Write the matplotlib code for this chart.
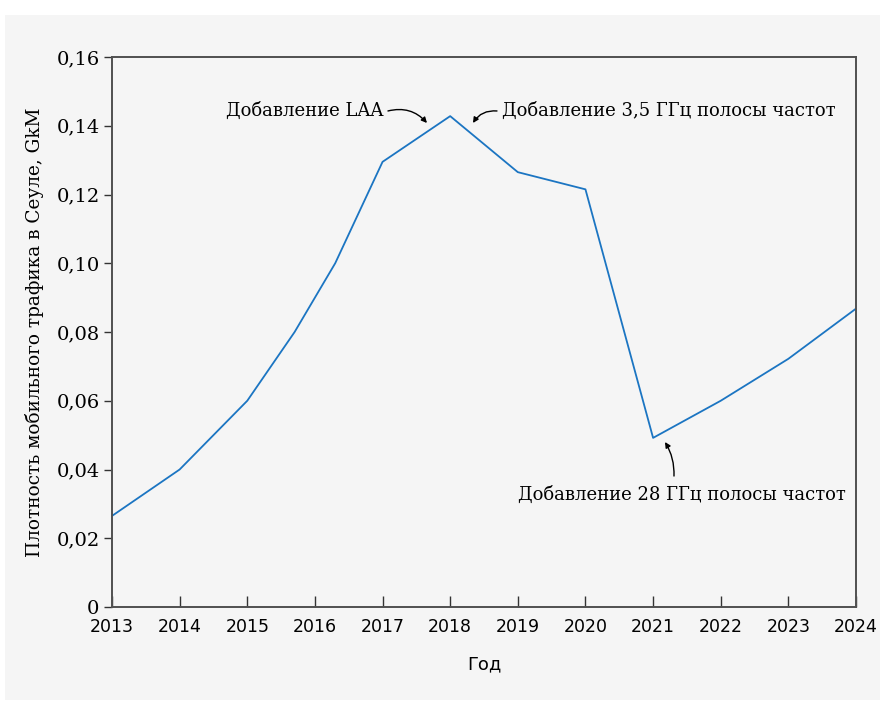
import matplotlib
matplotlib.use("Agg")
import matplotlib.pyplot as plt
from matplotlib.patches import Rectangle

years = [2013, 2014, 2015, 2015.7, 2016.3, 2017, 2018, 2019, 2020, 2021, 2022, 2023, 2024]
density = [0.0265, 0.0400, 0.0600, 0.0800, 0.1000, 0.1295, 0.1428, 0.1265, 0.1215, 0.0492, 0.0600, 0.0722, 0.0868]
year_ticks = list(range(2013, 2025))
y_ticks = [0, 0.02, 0.04, 0.06, 0.08, 0.10, 0.12, 0.14, 0.16]
y_tick_labels = ["0", "0,02", "0,04", "0,06", "0,08", "0,10", "0,12", "0,14", "0,16"]

SERIF = ["DejaVu Serif"]
plt.rcParams['font.family'] = SERIF

fig = plt.figure(figsize=(8.85, 7.01), dpi=100)
fig.patch.set_facecolor("white")
bg = Rectangle((5/885, 1-700/701), 875/885, 685/701, transform=fig.transFigure,
               facecolor="#f5f5f5", edgecolor="none", zorder=-10)
fig.add_artist(bg)
ax = fig.add_axes([112/885, 1-607/701, 744/885, 550/701])
ax.set_zorder(1)
ax.set_facecolor("#f5f5f5")
ax.plot(years, density, color="#1b75c2", lw=1.3)
ax.set_xlim(2013, 2024)
ax.set_ylim(0, 0.16)
ax.set_xticks(year_ticks)
ax.set_xticklabels([str(y) for y in year_ticks], family=["DejaVu Sans"], fontsize=12.5)
ax.set_yticks(y_ticks)
ax.set_yticklabels(y_tick_labels, fontsize=14)
for s in ax.spines.values():
    s.set_color("#505050")
    s.set_linewidth(1.4)
ax.tick_params(axis="x", direction="in", length=8, width=1, color="#333333", pad=8)
ax.tick_params(axis="y", direction="out", length=6, width=1, color="#333333", pad=3)
ax.set_xlabel("Год", fontsize=13, family=["DejaVu Sans"], labelpad=14)
ax.set_ylabel("Плотность мобильного трафика в Сеуле, GkM", fontsize=13.3, labelpad=9)

arr = dict(arrowstyle="-|>", color="black", lw=1, mutation_scale=8, shrinkA=0, shrinkB=0)
ax.text(2017.007, 0.1443, "Добавление LAA", ha="right", va="center", fontsize=13)
ax.annotate("", xy=(2017.657, 0.1408), xytext=(2017.08, 0.1443),
            arrowprops=dict(connectionstyle="arc3,rad=-0.3", **arr))
ax.text(2018.766, 0.1443, "Добавление 3,5 ГГц полосы частот", ha="left", va="center", fontsize=13)
ax.annotate("", xy=(2018.337, 0.1408), xytext=(2018.692, 0.1443),
            arrowprops=dict(connectionstyle="arc3,rad=0.3", **arr))
ax.text(2021.427, 0.0326, "Добавление 28 ГГц полосы частот", ha="center", va="center", fontsize=13)
ax.annotate("", xy=(2021.176, 0.0480), xytext=(2021.309, 0.0381),
            arrowprops=dict(connectionstyle="arc3,rad=0.15", **arr))

fig.savefig("out.png", dpi=100, facecolor="white")
